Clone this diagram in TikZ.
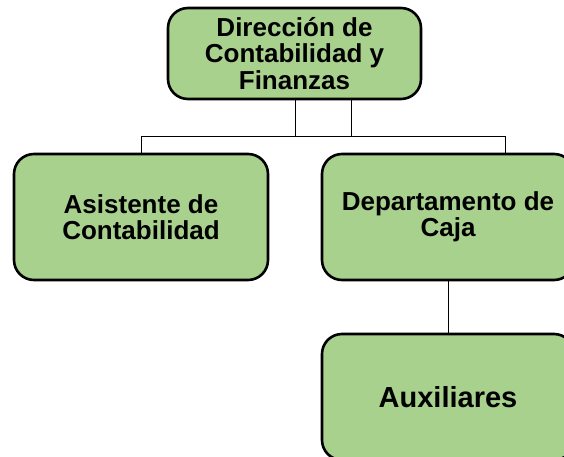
\documentclass[tikz,border=0pt]{standalone}
\usepackage{fontspec}
\setmainfont{Liberation Sans}
\begin{document}
\begin{tikzpicture}[x=1pt,y=-1pt,
  box/.style={draw=black,line width=2.6pt,fill=boxgreen,rounded corners=20pt,
    align=center,inner sep=0pt,font=\bfseries\fontsize{26}{26.5}\selectfont},
  link/.style={draw=black,line width=1pt}]
\definecolor{boxgreen}{HTML}{A9D18E}
\useasboundingbox (0,0) rectangle (564,457);
\begin{scope}
\clip (0,0) rectangle (564,457);
\node[box,minimum width=253pt,minimum height=91pt] (top) at (294.5,53.5) {Dirección de\\Contabilidad y\\Finanzas};
\node[box,minimum width=254pt,minimum height=126pt] (asis) at (141,217) {Asistente de\\Contabilidad};
\node[box,minimum width=252pt,minimum height=126pt] (dep) at (448,217) {Departamento de\\Caja};
\node[box,minimum width=252pt,minimum height=126pt,font=\bfseries\fontsize{29}{32}\selectfont] (aux) at (448,397) {Auxiliares};
\coordinate (ja) at (295,137);
\coordinate (jb) at (351,137);
\coordinate (jl) at (141,137);
\coordinate (jr) at (505,137);
\draw[link] (top.south -| ja) -- (ja);
\draw[link] (top.south -| jb) -- (jb);
\draw[link] (asis.north) -- (jl) -- (jr) -- (dep.north -| jr);
\draw[link] (dep.south) -- (aux.north);
\end{scope}
\end{tikzpicture}
\end{document}
